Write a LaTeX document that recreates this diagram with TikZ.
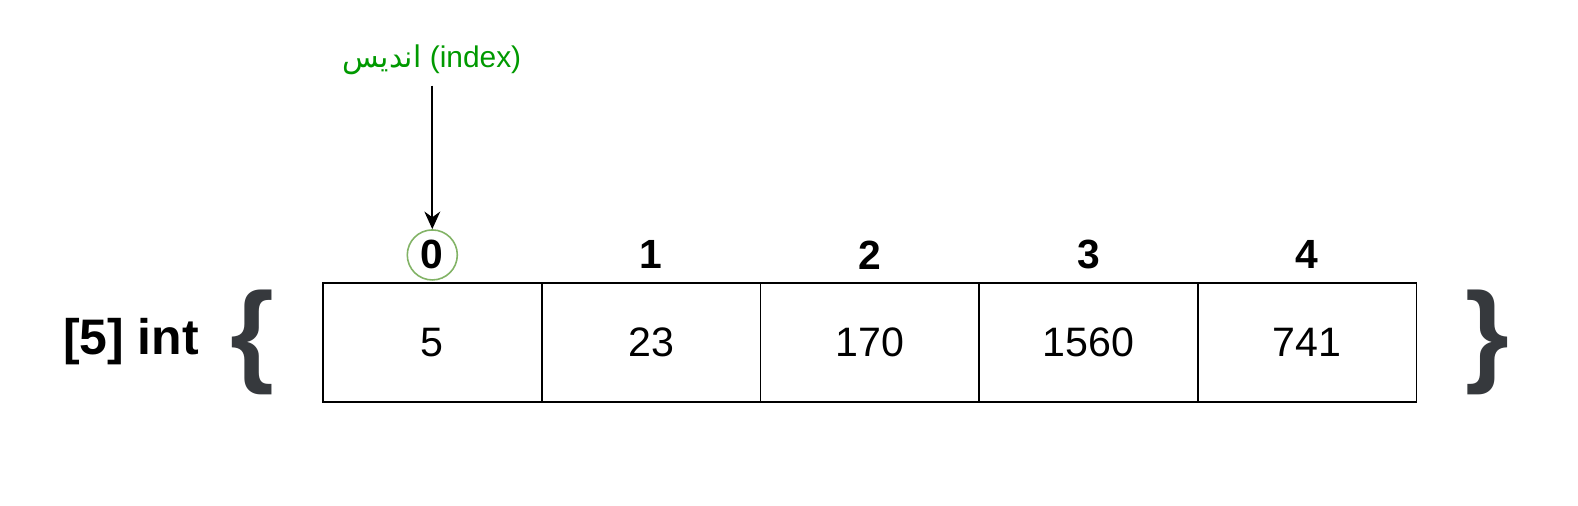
\documentclass[tikz,border=0pt]{standalone}
\usepackage{fontspec}
\setmainfont{Liberation Sans}
\newfontfamily\arabicfont[Script=Arabic]{DejaVu Sans}
\TeXXeTstate=1
\usetikzlibrary{positioning,arrows.meta}
\definecolor{idxgreen}{HTML}{009900}
\definecolor{ringgreen}{HTML}{82B366}
\definecolor{bracegray}{HTML}{36393D}

\tikzset{
  cell/.style={draw=black, line width=0.5pt, minimum width=2.186cm, minimum height=1.19cm,
    outer sep=0pt, inner sep=0pt, font=\fontsize{11.7}{14}\selectfont},
  idx/.style={circle, minimum size=0.5cm, inner sep=0pt, font=\fontsize{11.6}{14}\selectfont\bfseries},
  brace/.style={text=bracegray, inner sep=0pt, font=\fontsize{32}{36}\selectfont\bfseries}
}

\begin{document}
\begin{tikzpicture}[x=0.01cm, y=-0.01cm]
   \useasboundingbox (0,0) rectangle (1578,506);

   % the array cells
   \node [cell] (c0) at (432.3,342.5) {5};
   \node [cell, right=0pt of c0] (c1) {23};
   \node [cell, right=0pt of c1] (c2) {170};
   \node [cell, right=0pt of c2] (c3) {1560};
   \node [cell, right=0pt of c3] (c4) {741};

   % indices above the cells
   \node [idx, draw=ringgreen, line width=0.45pt] (i0) at ([yshift=0.28cm]c0.north) {0};
   \node [idx] (i1) at ([yshift=0.28cm]c1.north) {1};
   \node [idx] (i2) at ([yshift=0.28cm]c2.north) {2};
   \node [idx] (i3) at ([yshift=0.28cm]c3.north) {3};
   \node [idx] (i4) at ([yshift=0.28cm]c4.north) {4};

   \node [text=idxgreen, font=\fontsize{8.5}{10}\selectfont, inner sep=0pt] (lbl) at (432,60)
      {{\arabicfont\beginR اندیس\endR} (index)};
   \draw [-{Stealth[length=5pt,width=4.5pt]}, line width=0.55pt] ([yshift=-0.1cm]lbl.south -| i0.north) -- (i0.north);

   \node [font=\fontsize{14.2}{16}\selectfont\bfseries, inner sep=0pt] (type) at (131,342) {[5] int};
   \node [brace] (lb) at (252,342) {\{};
   \node [brace] (rb) at (1487,342) {\}};

\end{tikzpicture}
\end{document}
